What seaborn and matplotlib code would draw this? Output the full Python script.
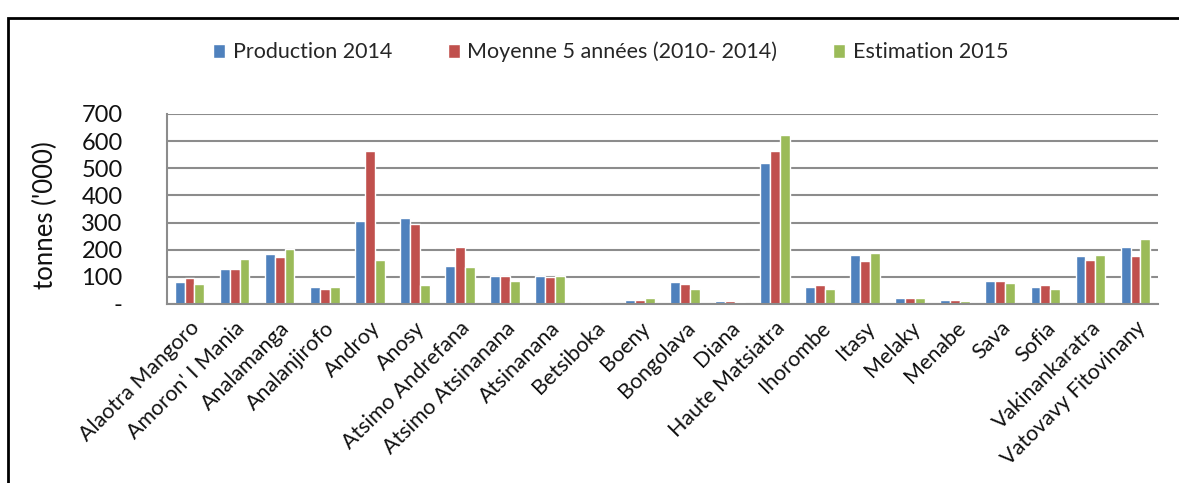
import matplotlib
matplotlib.use("Agg")
import matplotlib.pyplot as plt
import seaborn as sns
import pandas as pd
from matplotlib.patches import Rectangle

regions = ["Alaotra Mangoro", "Amoron' I Mania", "Analamanga", "Analanjirofo", "Androy",
           "Anosy", "Atsimo Andrefana", "Atsimo Atsinanana", "Atsinanana", "Betsiboka",
           "Boeny", "Bongolava", "Diana", "Haute Matsiatra", "Ihorombe", "Itasy",
           "Melaky", "Menabe", "Sava", "Sofia", "Vakinankaratra", "Vatovavy Fitovinany"]
production_2014 = [82, 128, 185, 62, 306, 316, 140, 103, 104, 6, 14, 82, 10, 518, 62, 182, 22, 14, 84, 63, 177, 210]
moyenne_5 = [95, 128, 174, 55, 565, 295, 211, 103, 101, 6, 14, 75, 11, 565, 71, 160, 22, 13, 85, 69, 163, 178]
estimation_2015 = [75, 165, 204, 64, 161, 70, 135, 86, 104, 5, 21, 54, 9, 623, 54, 188, 22, 11, 76, 56, 182, 238]
series_names = ["Production 2014", "Moyenne 5 années (2010- 2014)", "Estimation 2015"]
yticks = [0, 100, 200, 300, 400, 500, 600, 700]
ytick_labels = ["-", "100", "200", "300", "400", "500", "600", "700"]

colors = ["#4F81BD", "#C0504D", "#9BBB59"]

rows = []
for name, vals in zip(series_names, [production_2014, moyenne_5, estimation_2015]):
    for r, v in zip(regions, vals):
        rows.append({"Region": r, "Series": name, "Value": v})
df = pd.DataFrame(rows)

sns.set_theme(style="white")
plt.rcParams['font.family'] = ['Lato', 'DejaVu Sans']

fig = plt.figure(figsize=(11.79, 4.83), dpi=100)
ax = fig.add_axes([167/1179, 1 - 304/483, (1158-167)/1179, (304-114)/483])

sns.barplot(data=df, x="Region", y="Value", hue="Series", palette=colors,
            width=0.66, ax=ax, saturation=1, legend=True)

ax.set_ylim(0, 700)
ax.set_xlim(-0.5, len(regions) - 0.5)
ax.set_yticks(yticks)
ax.set_yticklabels(ytick_labels, fontsize=17, color="#111111")
ax.yaxis.grid(True, color="#8c8c8c", linewidth=1.5)
ax.set_axisbelow(True)
ax.tick_params(axis="y", length=0, pad=32)
ax.tick_params(axis="x", length=0, pad=10)
for lab in ax.get_yticklabels():
    lab.set_horizontalalignment("right")
ax.set_xticks(range(len(regions)))
ax.set_xticklabels(regions, rotation=45, ha="right", rotation_mode="anchor", fontsize=15.5, color="#111111")
ax.set_xlabel("")
ax.set_ylabel("tonnes ('000)", fontsize=18.5, color="#111111")
ax.yaxis.set_label_coords(-0.11, 0.47)

for side in ["top", "right"]:
    ax.spines[side].set_visible(False)
for side in ["left", "bottom"]:
    ax.spines[side].set_color("#8c8c8c")
    ax.spines[side].set_linewidth(1.5)

handles, labels = ax.get_legend_handles_labels()
ax.legend_.remove()
fig.legend(handles, labels, loc="center", bbox_to_anchor=(0.518, 1 - 52/483), ncol=3,
           frameon=False, fontsize=15.5, handlelength=0.55, handleheight=0.6,
           handletextpad=0.36, columnspacing=2.6)

fig.add_artist(Rectangle((8/1179, -0.1), 1.2, 1 - 18/483 + 0.1, transform=fig.transFigure,
                         fill=False, edgecolor="black", linewidth=2))

fig.savefig("out.png", dpi=100)
